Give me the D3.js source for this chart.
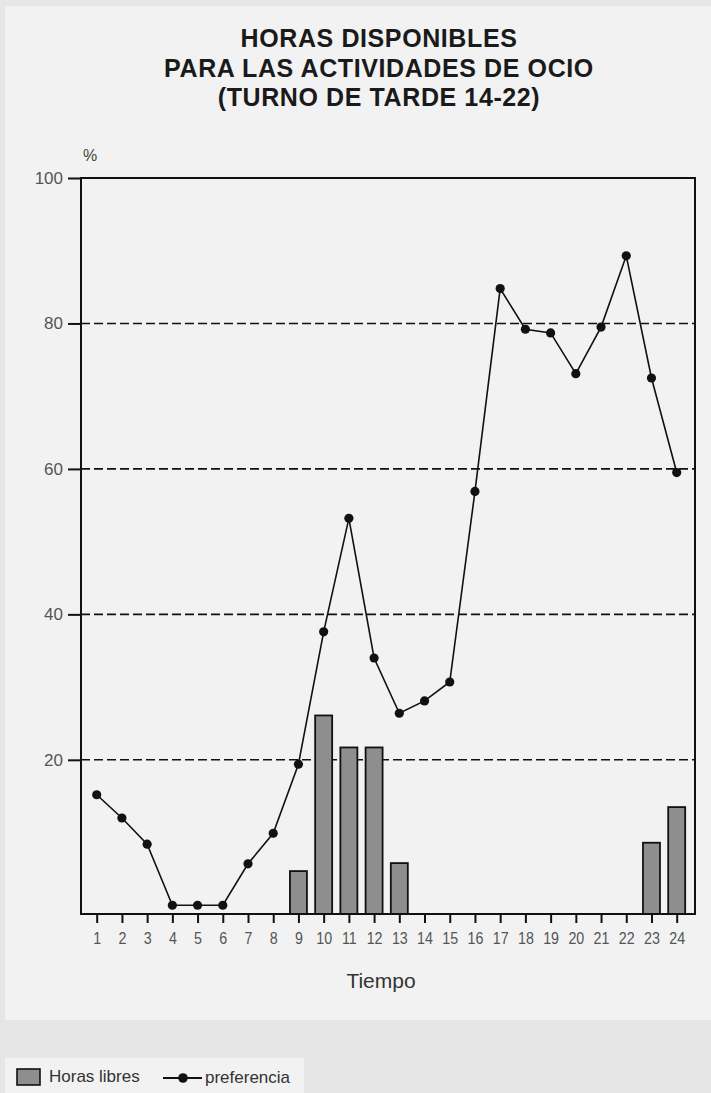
<!DOCTYPE html>
<html>
<head>
<meta charset="utf-8">
<script src="https://cdn.jsdelivr.net/npm/d3@7"></script>
<style>
  html, body { margin: 0; padding: 0; background: #e6e6e6; }
  svg { display: block; }
  text { font-family: "Liberation Sans", Arial, Helvetica, sans-serif; }
</style>
</head>
<body>
<svg id="chart" width="711" height="1093"></svg>
<script>
// ---- data ----
const hours = ["1","2","3","4","5","6","7","8","9","10","11","12","13","14","15","16","17","18","19","20","21","22","23","24"];
const horasLibres = [0,0,0,0,0,0,0,0,4.7,26.1,21.7,21.7,5.8,0,0,0,0,0,0,0,0,0,8.6,13.5];
const preferencia = [15.2,12.0,8.4,0,0,0,5.7,9.9,19.4,37.6,53.2,34.0,26.4,28.1,30.7,56.9,84.8,79.2,78.7,73.1,79.5,89.3,72.5,59.5];
const yTickValues = [20,40,60,80,100];
const gridValues = [20,40,60,80];
const titleLines = ["HORAS DISPONIBLES","PARA LAS ACTIVIDADES DE OCIO","(TURNO DE TARDE 14-22)"];
const seriesNames = ["Horas libres","preferencia"];
const xTitle = "Tiempo";
const yUnit = "%";

// ---- layout ----
const plot = {left: 81, right: 695, top: 178, bottom: 914};
const svg = d3.select("#chart");

// panels
svg.append("rect").attr("x",5).attr("y",6).attr("width",706).attr("height",1014).attr("fill","#f2f2f2");
svg.append("rect").attr("x",5).attr("y",1058).attr("width",299).attr("height",40).attr("fill","#f2f2f2");

// scales
const x = d3.scalePoint().domain(hours).range([96.7, 676.7]);
const y = d3.scaleLinear().domain([-1.2, 100]).range([plot.bottom, plot.top]);

// title
const title = svg.append("g").attr("fill","#1a1a1a");
const titleBaselines = [47, 76.5, 105.5];
titleLines.forEach((t,i) => {
  title.append("text").attr("x",379).attr("y",titleBaselines[i])
    .attr("text-anchor","middle").attr("font-size",25).attr("font-weight","bold")
    .attr("letter-spacing",0.6).text(t);
});

// gridlines
svg.append("g").selectAll("line").data(gridValues).join("line")
  .attr("x1",plot.left).attr("x2",plot.right)
  .attr("y1",d=>y(d)).attr("y2",d=>y(d))
  .attr("stroke","#111").attr("stroke-width",1.6).attr("stroke-dasharray","9,4");

// bars
const barW = 17;
svg.append("g").selectAll("rect").data(hours.map((h,i)=>({h, v: horasLibres[i]})).filter(d=>d.v>0))
  .join("rect")
  .attr("x",d=>x(d.h)-barW/2).attr("width",barW)
  .attr("y",d=>y(d.v)).attr("height",d=>y(y.domain()[0])-y(d.v))
  .attr("fill","#8e8e8e").attr("stroke","#111").attr("stroke-width",1.8);

// frame
svg.append("rect").attr("x",plot.left).attr("y",plot.top)
  .attr("width",plot.right-plot.left).attr("height",plot.bottom-plot.top)
  .attr("fill","none").attr("stroke","#111").attr("stroke-width",2);

// axes
const yAxis = svg.append("g").attr("transform",`translate(${plot.left},0)`)
  .call(d3.axisLeft(y).tickValues(yTickValues).tickSize(13).tickPadding(5).tickSizeOuter(0));
yAxis.select(".domain").remove();
yAxis.selectAll(".tick line").attr("stroke","#111").attr("stroke-width",2);
yAxis.selectAll(".tick text").attr("fill","#555").attr("font-size",17)
  .attr("font-family","Liberation Sans, Arial, sans-serif");

const xAxis = svg.append("g").attr("transform",`translate(0,${plot.bottom})`)
  .call(d3.axisBottom(x).tickSize(9).tickPadding(9).tickSizeOuter(0));
xAxis.select(".domain").remove();
xAxis.selectAll(".tick line").attr("stroke","#111").attr("stroke-width",2);
xAxis.selectAll(".tick text").attr("fill","#555").attr("font-size",17)
  .attr("font-family","Liberation Sans, Arial, sans-serif")
  .attr("transform","scale(0.84,1)");

// axis titles
svg.append("text").attr("x",90).attr("y",161).attr("text-anchor","middle")
  .attr("font-size",16).attr("fill","#444").text(yUnit);
svg.append("text").attr("x",381).attr("y",988).attr("text-anchor","middle")
  .attr("font-size",21).attr("fill","#333").text(xTitle);

// preference line
const pts = hours.map((h,i)=>({h, v: preferencia[i]}));
svg.append("path").datum(pts)
  .attr("d", d3.line().x(d=>x(d.h)).y(d=>y(d.v)))
  .attr("fill","none").attr("stroke","#111").attr("stroke-width",1.6);
svg.append("g").selectAll("circle").data(pts).join("circle")
  .attr("cx",d=>x(d.h)).attr("cy",d=>y(d.v)).attr("r",4.6).attr("fill","#111");

// legend
const lg = svg.append("g");
lg.append("rect").attr("x",17).attr("y",1069).attr("width",23).attr("height",16)
  .attr("fill","#8e8e8e").attr("stroke","#111").attr("stroke-width",1.6);
lg.append("text").attr("x",49).attr("y",1082).attr("font-size",17).attr("fill","#333").text(seriesNames[0]);
lg.append("line").attr("x1",163).attr("x2",202).attr("y1",1078).attr("y2",1078)
  .attr("stroke","#111").attr("stroke-width",1.8);
lg.append("circle").attr("cx",183).attr("cy",1078).attr("r",4.8).attr("fill","#111");
lg.append("text").attr("x",205).attr("y",1083).attr("font-size",17).attr("fill","#333").text(seriesNames[1]);
</script>
</body>
</html>
